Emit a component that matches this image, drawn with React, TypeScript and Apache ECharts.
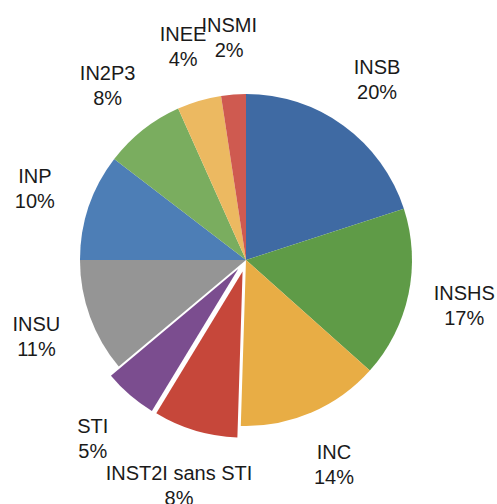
import React, { useEffect, useRef } from "react";
import * as echarts from "echarts";

const categories = ["INSB", "INSHS", "INC", "INST2I sans STI", "STI", "INSU", "INP", "IN2P3", "INEE", "INSMI"];
const values = [20, 16.6, 13.9, 8.2, 5.2, 11.1, 10.4, 7.9, 4.3, 2.4];
const colors = ["#3f6aa3", "#5f9b47", "#e8ad45", "#c6473a", "#7b4d8f", "#959595", "#4d7eb6", "#7aad5f", "#ecb961", "#cf5a50"];
const exploded = ["INST2I sans STI", "STI"];

export default function App() {
  const ref = useRef<HTMLDivElement>(null);
  useEffect(() => {
    const chart = echarts.init(ref.current!, null, { renderer: "svg" });
    chart.setOption({
      animation: false,
      backgroundColor: "#ffffff",
      series: [
        {
          type: "pie",
          center: [246, 260],
          radius: [0, 166],
          startAngle: 90,
          clockwise: true,
          avoidLabelOverlap: false,
          minShowLabelAngle: 0,
          selectedMode: "multiple",
          selectedOffset: 12,
          data: categories.map((c, i) => ({
            name: c,
            value: values[i],
            selected: exploded.includes(c),
            itemStyle: { color: colors[i] },
          })),
          itemStyle: { borderWidth: 0 },
          emphasis: { disabled: true },
          select: { itemStyle: { borderWidth: 0 } },
          label: {
            show: true,
            position: "outside",
            formatter: (p: any) => `${p.name}\n${Math.round(p.value)}%`,
            fontFamily: "Liberation Sans, Arial, sans-serif",
            fontSize: 20,
            lineHeight: 25,
            color: "#1a1a1a",
            distanceToLabelLine: 0,
            overflow: "none",
          },
          labelLine: { show: false, length: 57, length2: 0 },
          labelLayout: { align: "center", verticalAlign: "middle", hideOverlap: false, moveOverlap: null },
        },
      ],
    });
    return () => chart.dispose();
  }, []);
  return (
    <div
      ref={ref}
      style={{ position: "fixed", left: 0, top: 0, width: 497, height: 504 }}
    />
  );
}
